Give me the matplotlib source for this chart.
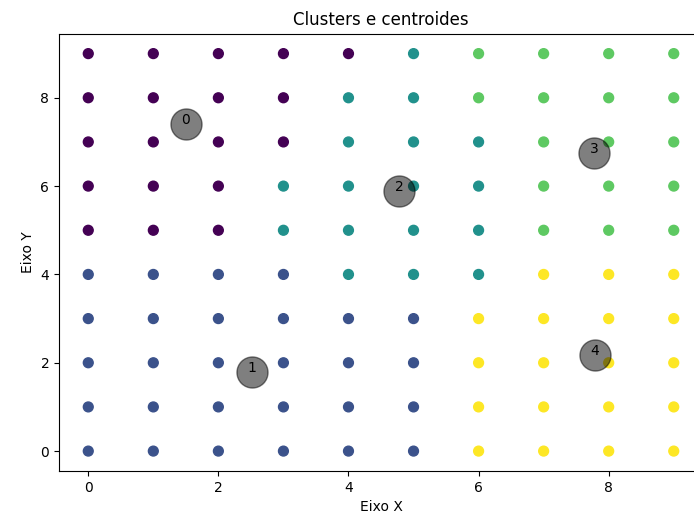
import numpy as np
import matplotlib.pyplot as plt

# -----------------------------
# Data
# -----------------------------

x_vals = [0, 1, 2, 3, 4, 5, 6, 7, 8, 9]
y_vals = [9, 8, 7, 6, 5, 4, 3, 2, 1, 0]

# cluster of each grid point, one row per y value (top row is y=9)
cluster_rows = [
    [0, 0, 0, 0, 0, 2, 3, 3, 3, 3],
    [0, 0, 0, 0, 2, 2, 3, 3, 3, 3],
    [0, 0, 0, 0, 2, 2, 2, 3, 3, 3],
    [0, 0, 0, 2, 2, 2, 2, 3, 3, 3],
    [0, 0, 0, 2, 2, 2, 2, 3, 3, 3],
    [1, 1, 1, 1, 2, 2, 2, 4, 4, 4],
    [1, 1, 1, 1, 1, 1, 4, 4, 4, 4],
    [1, 1, 1, 1, 1, 1, 4, 4, 4, 4],
    [1, 1, 1, 1, 1, 1, 4, 4, 4, 4],
    [1, 1, 1, 1, 1, 1, 4, 4, 4, 4],
]

centroid_x = [1.50, 2.51, 4.78, 7.78, 7.79]
centroid_y = [7.41, 1.79, 5.90, 6.76, 2.17]

# -----------------------------
# Build point table
# -----------------------------

px, py, labels = [], [], []
for row, y in zip(cluster_rows, y_vals):
    for x, c in zip(x_vals, row):
        px.append(x)
        py.append(y)
        labels.append(c)

# -----------------------------
# Plot
# -----------------------------

fig = plt.figure(figsize=(6.94, 5.23), dpi=100)
# axes run past the right edge of the picture, as in the reference
ax = fig.add_axes([0.085, 0.0995, 0.928, 0.836])

ax.scatter(px, py, c=labels, s=50, cmap="viridis")
ax.scatter(centroid_x, centroid_y, c="black", s=500, alpha=0.5)

for i, (cx, cy) in enumerate(zip(centroid_x, centroid_y)):
    ax.text(cx, cy, str(i), ha="center", va="baseline", fontsize=10)

ax.set_title("Clusters e centroides")
ax.set_xlabel("Eixo X")
ax.set_ylabel("Eixo Y")

fig.savefig("out.png", dpi=100)
